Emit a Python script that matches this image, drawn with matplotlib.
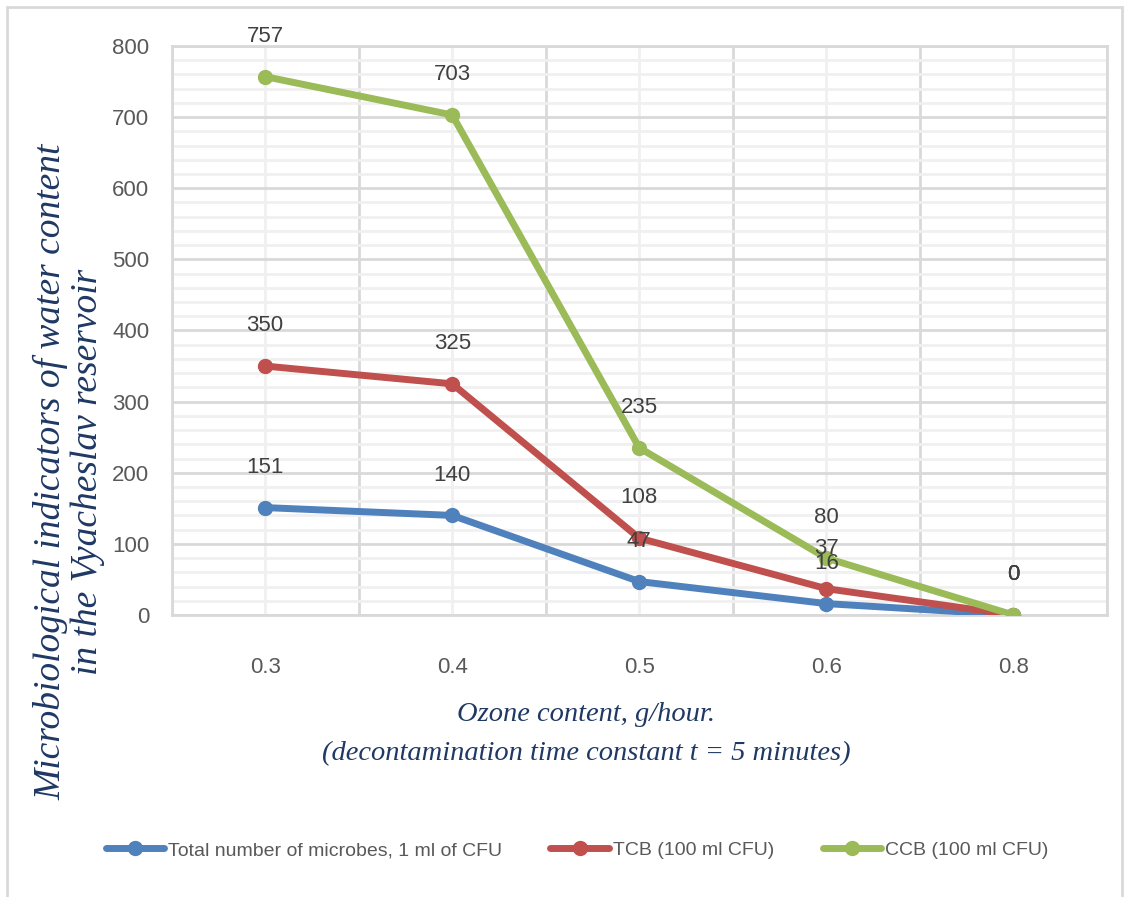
import numpy as np
import matplotlib.pyplot as plt
from matplotlib.patches import Rectangle
from matplotlib.ticker import MultipleLocator, FixedLocator

ozone = ["0.3", "0.4", "0.5", "0.6", "0.8"]
total_microbes = [151, 140, 47, 16, 0]
tcb = [350, 325, 108, 37, 0]
ccb = [757, 703, 235, 80, 0]

series = [
    ("Total number of microbes, 1 ml of CFU", total_microbes, "#4F81BD"),
    ("TCB (100 ml CFU)", tcb, "#C0504D"),
    ("CCB (100 ml CFU)", ccb, "#9BBB59"),
]

narrow = ["Liberation Sans Narrow", "Liberation Sans", "DejaVu Sans"]
title_font = dict(family=["Liberation Serif", "DejaVu Serif"], style="italic",
                  color="#1F3864")
gray = "#595959"


def main():
    fig = plt.figure(figsize=(11.29, 8.97), dpi=100)
    ax = fig.add_axes([0.152, 0.3144, 0.8285, 0.6343])

    x = np.arange(len(ozone))
    for name, vals, color in series:
        ax.plot(x, vals, color=color, lw=5, marker="o", ms=10,
                solid_capstyle="round", label=name, zorder=3)
        for xi, v in zip(x, vals):
            ax.annotate(str(v), (xi, v), xytext=(0, 29), textcoords="offset points",
                        ha="center", va="center", fontsize=16, color="#404040",
                        family=narrow, zorder=4)

    ax.set_xlim(-0.5, len(ozone) - 0.5)
    ax.set_ylim(0, 800)
    ax.set_xticks(x)
    ax.set_xticklabels(ozone)
    ax.xaxis.set_minor_locator(FixedLocator(np.arange(-0.5, len(ozone), 1.0)))
    ax.yaxis.set_major_locator(MultipleLocator(100))
    ax.yaxis.set_minor_locator(MultipleLocator(20))

    # light minor grid under darker major grid
    ax.grid(True, which="minor", axis="y", color="#f0f0f0", lw=2)
    ax.grid(True, which="major", axis="x", color="#f0f0f0", lw=2)
    ax.grid(True, which="major", axis="y", color="#d9d9d9", lw=2)
    ax.grid(True, which="minor", axis="x", color="#d9d9d9", lw=2)
    ax.set_axisbelow(True)
    for s in ax.spines.values():
        s.set_color("#d9d9d9")
        s.set_linewidth(2)

    ax.tick_params(which="both", length=0)
    ax.tick_params(axis="x", pad=30, labelsize=16, labelcolor=gray)
    ax.tick_params(axis="y", pad=16, labelsize=16, labelcolor=gray)
    for lab in ax.get_xticklabels() + ax.get_yticklabels():
        lab.set_family(narrow)

    fig.text(586 / 1129, 1 - 734 / 897,
             "Ozone content, g/hour.\n(decontamination time constant t = 5 minutes)",
             ha="center", va="center", fontsize=20.5, linespacing=1.75, **title_font)
    fig.text(69 / 1129, 1 - 472 / 897,
             "Microbiological indicators of water content\nin the Vyacheslav reservoir",
             ha="center", va="center", rotation=90, fontsize=27, linespacing=1.1,
             **title_font)

    leg = ax.legend(loc="center", bbox_to_anchor=(0.511, 0.052),
                    bbox_transform=fig.transFigure, ncol=3, frameon=False,
                    prop=dict(family=narrow, size=14), handlelength=3,
                    handletextpad=0.2, columnspacing=2.5)
    for t in leg.get_texts():
        t.set_color(gray)

    fig.patches.append(Rectangle((0.006, -0.01), 0.988, 1.002, transform=fig.transFigure,
                                 fill=False, ec="#d9d9d9", lw=2))
    fig.savefig("out.png", dpi=100)


if __name__ == "__main__":
    main()
